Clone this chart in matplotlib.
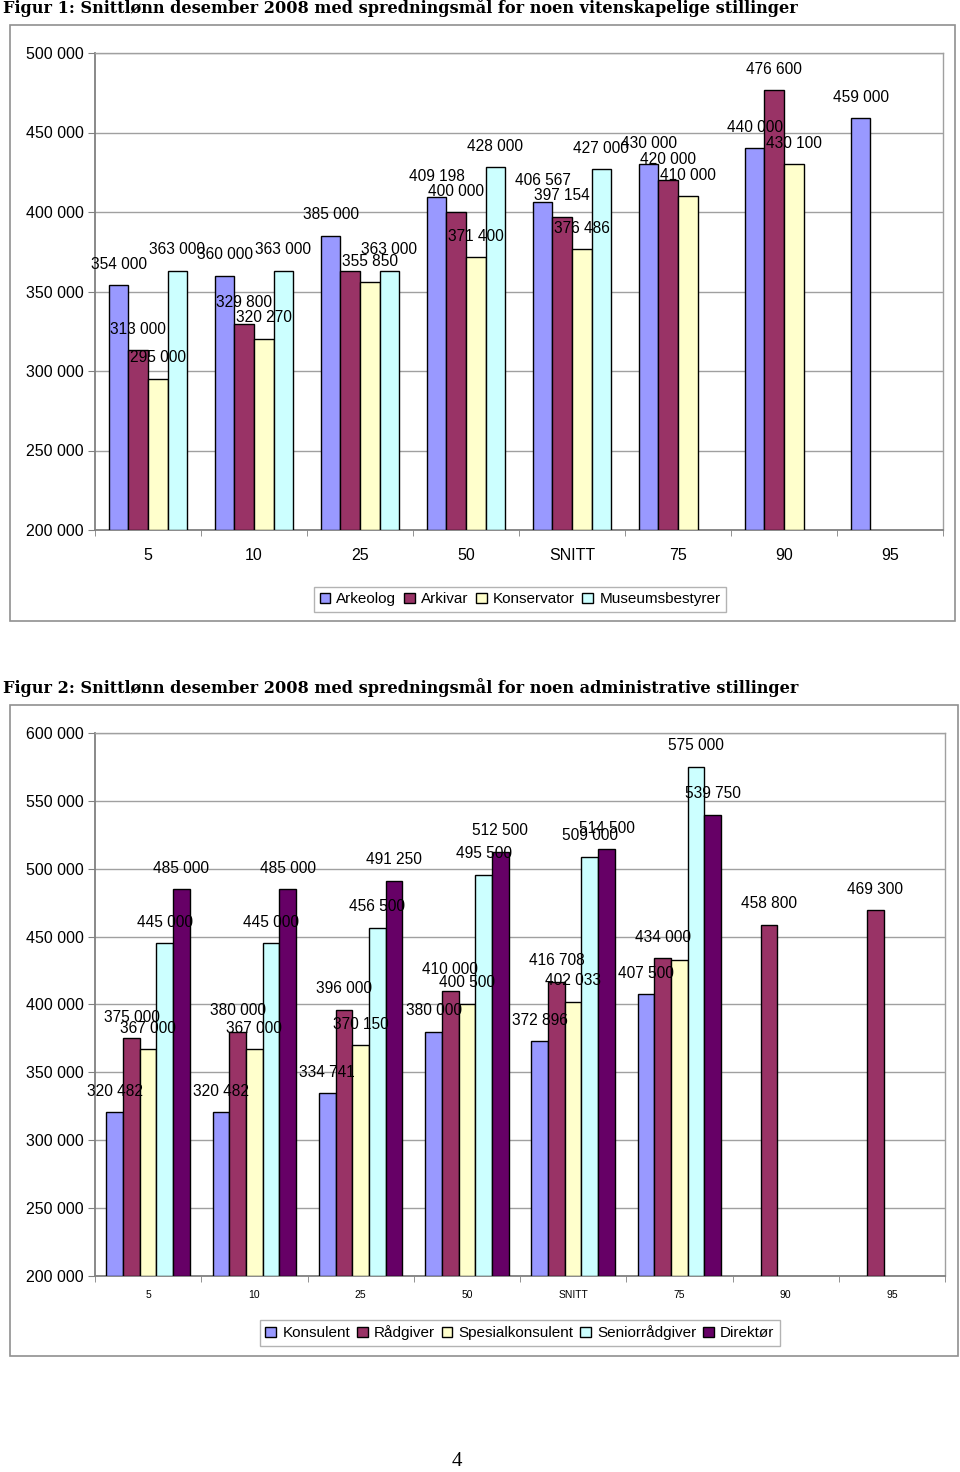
import numpy as np
import matplotlib
matplotlib.use("Agg")
import matplotlib.pyplot as plt
from matplotlib.patches import Rectangle
from matplotlib.ticker import FuncFormatter, FixedLocator

# ---------------- data ----------------
categories = ["5", "10", "25", "50", "SNITT", "75", "90", "95"]

series1_names = ["Arkeolog", "Arkivar", "Konservator", "Museumsbestyrer"]
arkeolog = [354000, 360000, 385000, 409198, 406567, 430000, 440000, 459000]
arkivar = [313000, 329800, 363000, 400000, 397154, 420000, 476600, None]
konservator = [295000, 320270, 355850, 371400, 376486, 410000, 430100, None]
museumsbestyrer = [363000, 363000, 363000, 428000, 427000, None, None, None]
hidden_labels1 = {(1, 2)}  # (series index, category index) without visible label

series2_names = ["Konsulent", "Rådgiver", "Spesialkonsulent", "Seniorrådgiver", "Direktør"]
konsulent = [320482, 320482, 334741, 380000, 372896, 407500, None, None]
radgiver = [375000, 380000, 396000, 410000, 416708, 434000, 458800, 469300]
spesialkonsulent = [367000, 367000, 370150, 400500, 402033, 433000, None, None]
seniorradgiver = [445000, 445000, 456500, 495500, 509000, 575000, None, None]
direktor = [485000, 485000, 491250, 512500, 514500, 539750, None, None]
hidden_labels2 = {(2, 5)}

colors1 = ["#9999FF", "#993366", "#FFFFCC", "#CCFFFF"]
colors2 = ["#9999FF", "#993366", "#FFFFCC", "#CCFFFF", "#660066"]

title1 = "Figur 1: Snittlønn desember 2008 med spredningsmål for noen vitenskapelige stillinger"
title2 = "Figur 2: Snittlønn desember 2008 med spredningsmål for noen administrative stillinger"

# ---------------- style ----------------
plt.rcParams["font.family"] = ["Liberation Sans", "DejaVu Sans"]

W, H = 960, 1472
fig = plt.figure(figsize=(W / 100, H / 100), dpi=100)


def fx(px):
    return px / W


def fy(py):
    return 1 - py / H


def thousands(v, pos=None):
    return f"{int(round(v)):,}".replace(",", " ")


def draw_chart(ax_rect, series, names, colors, width, ymin, ymax, hidden, xtick_fs):
    ax = fig.add_axes(ax_rect)
    n = len(series)
    x = np.arange(len(categories))
    for i, (vals, name, col) in enumerate(zip(series, names, colors)):
        off = (i - (n - 1) / 2) * width
        xs = [x[j] + off for j, v in enumerate(vals) if v is not None]
        hs = [v for v in vals if v is not None]
        ax.bar(xs, [h - ymin for h in hs], bottom=ymin, width=width, color=col,
               edgecolor="black", linewidth=1.0, label=name, zorder=3)
        for j, v in enumerate(vals):
            if v is None or (i, j) in hidden:
                continue
            ax.annotate(thousands(v), (x[j] + off, v), xytext=(0, 21),
                        textcoords="offset pixels", ha="center", va="center",
                        fontsize=11.2, color="black", zorder=5)
    ax.set_xlim(-0.5, len(categories) - 0.5)
    ax.set_ylim(ymin, ymax)
    ax.yaxis.set_major_locator(FixedLocator(np.arange(ymin, ymax + 1, 50000)))
    ax.yaxis.set_major_formatter(FuncFormatter(thousands))
    ax.set_xticks(x)
    ax.set_xticklabels(categories, fontsize=xtick_fs)
    ax.set_xticks(np.arange(-0.5, len(categories), 1.0), minor=True)
    ax.tick_params(axis="x", which="major", length=0, pad=13 if xtick_fs > 10 else 10)
    ax.tick_params(axis="x", which="minor", length=4, color="#808080")
    ax.tick_params(axis="y", length=5, color="#808080", labelsize=11.5, pad=3)
    ax.grid(axis="y", color="#A0A0A0", linewidth=1.0, zorder=0)
    for s in ["top", "right"]:
        ax.spines[s].set_color("#A0A0A0")
        ax.spines[s].set_linewidth(1.0)
    for s in ["left", "bottom"]:
        ax.spines[s].set_color("#808080")
        ax.spines[s].set_linewidth(1.3)
    return ax


# chart 1
ax1 = draw_chart([fx(95), fy(530), fx(943) - fx(95), fy(53) - fy(530)],
                 [arkeolog, arkivar, konservator, museumsbestyrer], series1_names,
                 colors1, 0.184, 200000, 500000, hidden_labels1, 11.5)
# chart 2
ax2 = draw_chart([fx(95), fy(1276), fx(945) - fx(95), fy(733) - fy(1276)],
                 [konsulent, radgiver, spesialkonsulent, seniorradgiver, direktor],
                 series2_names, colors2, 0.157, 200000, 600000, hidden_labels2, 7.5)

# outer chart boxes
for (x0, y0, x1, y1) in [(10, 25, 955, 621), (10, 705, 958, 1356)]:
    fig.patches.append(Rectangle((fx(x0), fy(y1)), fx(x1) - fx(x0), fy(y0) - fy(y1),
                                 transform=fig.transFigure, fill=False,
                                 edgecolor="#909090", linewidth=1.2))

# legends
h1, l1 = ax1.get_legend_handles_labels()
fig.legend(h1, l1, loc="center", bbox_to_anchor=(fx(520), fy(599.5)), ncol=4,
           fontsize=11, frameon=True, fancybox=False, edgecolor="#A0A0A0",
           handlelength=0.7, handleheight=0.7, handletextpad=0.4, columnspacing=0.5,
           borderpad=0.35, borderaxespad=0)
h2, l2 = ax2.get_legend_handles_labels()
fig.legend(h2, l2, loc="center", bbox_to_anchor=(fx(520), fy(1333)), ncol=5,
           fontsize=11, frameon=True, fancybox=False, edgecolor="#A0A0A0",
           handlelength=0.7, handleheight=0.7, handletextpad=0.4, columnspacing=0.45,
           borderpad=0.35, borderaxespad=0)

# titles
fig.text(fx(3), fy(8), title1, fontsize=11.6, fontweight="bold", family="DejaVu Serif",
         ha="left", va="center")
fig.text(fx(3), fy(688), title2, fontsize=11.6, fontweight="bold", family="DejaVu Serif",
         ha="left", va="center")
fig.text(fx(457), fy(1462), "4", fontsize=15, family="Liberation Serif",
         ha="center", va="center")

fig.savefig("out.png", dpi=100)
